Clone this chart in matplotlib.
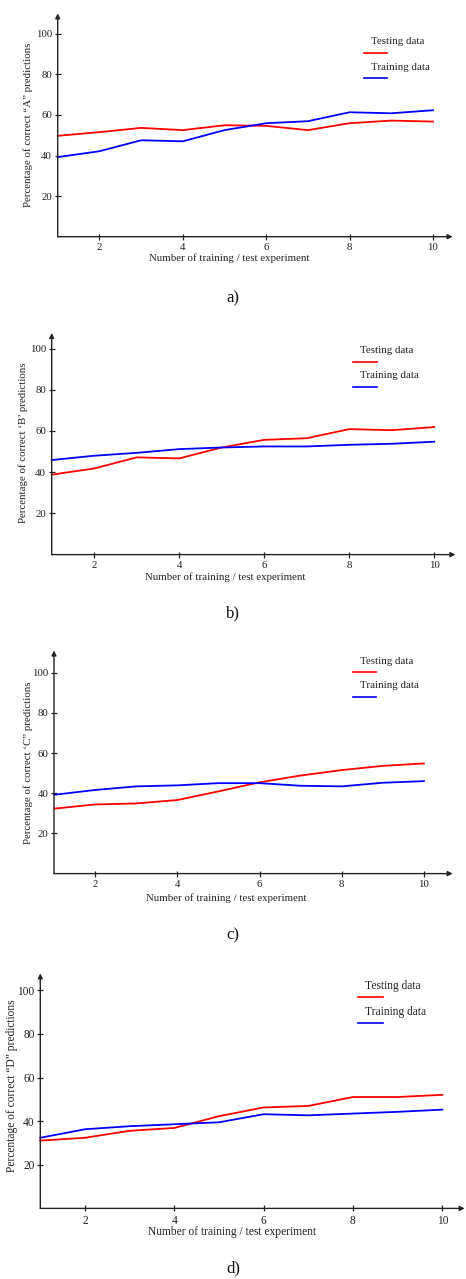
import matplotlib
matplotlib.use("Agg")
import matplotlib.pyplot as plt

plt.rcParams['font.family'] = ['Liberation Serif', 'DejaVu Serif']

# experiment numbers
runs = [1, 2, 3, 4, 5, 6, 7, 8, 9, 10]

# a) letter "A"
test_a = [49.7, 51.5, 53.6, 52.5, 54.9, 54.6, 52.5, 55.9, 57.2, 56.7]
train_a = [39.2, 42.1, 47.5, 47.0, 52.5, 55.9, 56.9, 61.3, 60.8, 62.3]

# b) letter "B"
test_b = [38.8, 41.8, 47.2, 46.7, 52.0, 55.7, 56.5, 60.9, 60.4, 61.9]
train_b = [45.9, 48.0, 49.4, 51.2, 52.0, 52.5, 52.5, 53.3, 53.8, 54.8]

# c) letter "C"
test_c = [32.3, 34.4, 34.9, 36.6, 40.9, 45.4, 48.8, 51.5, 53.6, 54.8]
train_c = [39.2, 41.6, 43.4, 43.9, 45.0, 45.0, 43.7, 43.4, 45.2, 46.0]

# d) letter "D"
test_d = [31.1, 32.4, 35.6, 36.9, 42.3, 46.3, 47.0, 51.1, 51.1, 52.1]
train_d = [32.4, 36.3, 37.7, 38.6, 39.5, 43.2, 42.7, 43.5, 44.3, 45.3]

ylabels = ["Percentage of correct \u201cA\u201d predictions",
           "Percentage of correct \u2018B\u2019 predictions",
           "Percentage of correct \u2018C\u201d predictions",
           "Percentage of correct \u201cD\u201d predictions"]
panel_tags = ["a)", "b)", "c)", "d)"]

W, H = 466, 1279
fig = plt.figure(figsize=(W / 100, H / 100), dpi=100)

# per panel layout in pixels: x of y-axis, y of x-axis, px per x unit, px per y unit,
# x max, y max, font size, xlabel pos, ylabel pos, tag y, legend line x/y
panels = [
    dict(x0=57.7, y0=236.7, sx=41.7, sy=2.03, xmax=10.47, ymax=110, fs=7.8,
         xl=(229, 258.5), yl=(28.5, 125), tag=298, leg=(364, 387, 53, 78)),
    dict(x0=51.7, y0=554.6, sx=42.5, sy=2.06, xmax=10.5, ymax=107.6, fs=7.8,
         xl=(225, 577), yl=(23.5, 443), tag=613, leg=(352.7, 376.7, 361.7, 386.7)),
    dict(x0=54.0, y0=873.6, sx=41.1, sy=2.01, xmax=10.7, ymax=111, fs=7.8,
         xl=(226, 898.5), yl=(28.5, 763), tag=935, leg=(352.7, 375.7, 672.3, 696.7)),
    dict(x0=40.3, y0=1208.4, sx=44.67, sy=2.18, xmax=10.5, ymax=107.8, fs=8.3,
         xl=(232, 1232), yl=(12.5, 1086), tag=1268, leg=(358.3, 383.3, 996.7, 1023)),
]
series = [(test_a, train_a), (test_b, train_b), (test_c, train_c), (test_d, train_d)]

for p, (test, train), ylab, tag in zip(panels, series, ylabels, panel_tags):
    wpx = (p['xmax'] - 1) * p['sx']
    hpx = p['ymax'] * p['sy']
    ax = fig.add_axes([p['x0'] / W, 1 - p['y0'] / H, wpx / W, hpx / H])
    ax.set_xlim(1, p['xmax'])
    ax.set_ylim(0, p['ymax'])
    ax.patch.set_alpha(0)
    for s in ax.spines.values():
        s.set_visible(False)

    ax.plot(runs, test, color='#ff0000', lw=1.3, clip_on=False)
    ax.plot(runs, train, color='#0000ff', lw=1.3, clip_on=False)

    # axes drawn as arrows
    ax.annotate('', xy=(1, 0), xytext=(0, 0), xycoords='axes fraction',
                arrowprops=dict(arrowstyle='-|>', color='#222222', lw=1.0,
                                mutation_scale=7, shrinkA=0, shrinkB=0))
    ax.annotate('', xy=(0, 1), xytext=(0, 0), xycoords='axes fraction',
                arrowprops=dict(arrowstyle='-|>', color='#222222', lw=1.0,
                                mutation_scale=7, shrinkA=0, shrinkB=0))

    ax.set_xticks([2, 4, 6, 8, 10])
    ax.set_yticks([20, 40, 60, 80, 100])
    ax.tick_params(direction='inout', length=4, width=0.9, color='#222222',
                   labelsize=p['fs'], labelcolor='#222222')
    ax.tick_params(axis='x', pad=2.5)
    ax.tick_params(axis='y', pad=2)

    fig.text(p['xl'][0] / W, 1 - p['xl'][1] / H, "Number of training / test experiment",
             ha='center', va='center', fontsize=p['fs'], color='#222222')
    fig.text(p['yl'][0] / W, 1 - p['yl'][1] / H, ylab, rotation=90,
             ha='center', va='center', fontsize=p['fs'], color='#222222')
    fig.text(233 / W, 1 - p['tag'] / H, tag, ha='center', va='center',
             fontsize=12, color='#111111')

    # legend: label above a short line
    lx0, lx1, ly_r, ly_b = p['leg']
    for ly, col, txt in [(ly_r, '#ff0000', "Testing data"), (ly_b, '#0000ff', "Training data")]:
        fig.add_artist(plt.Line2D([lx0 / W, lx1 / W], [1 - ly / H, 1 - ly / H],
                                  color=col, lw=1.2))
        fig.text((lx0 + 7) / W, 1 - (ly - 11) / H, txt, ha='left', va='center',
                 fontsize=p['fs'], color='#222222')

fig.savefig("out.png", dpi=100)
